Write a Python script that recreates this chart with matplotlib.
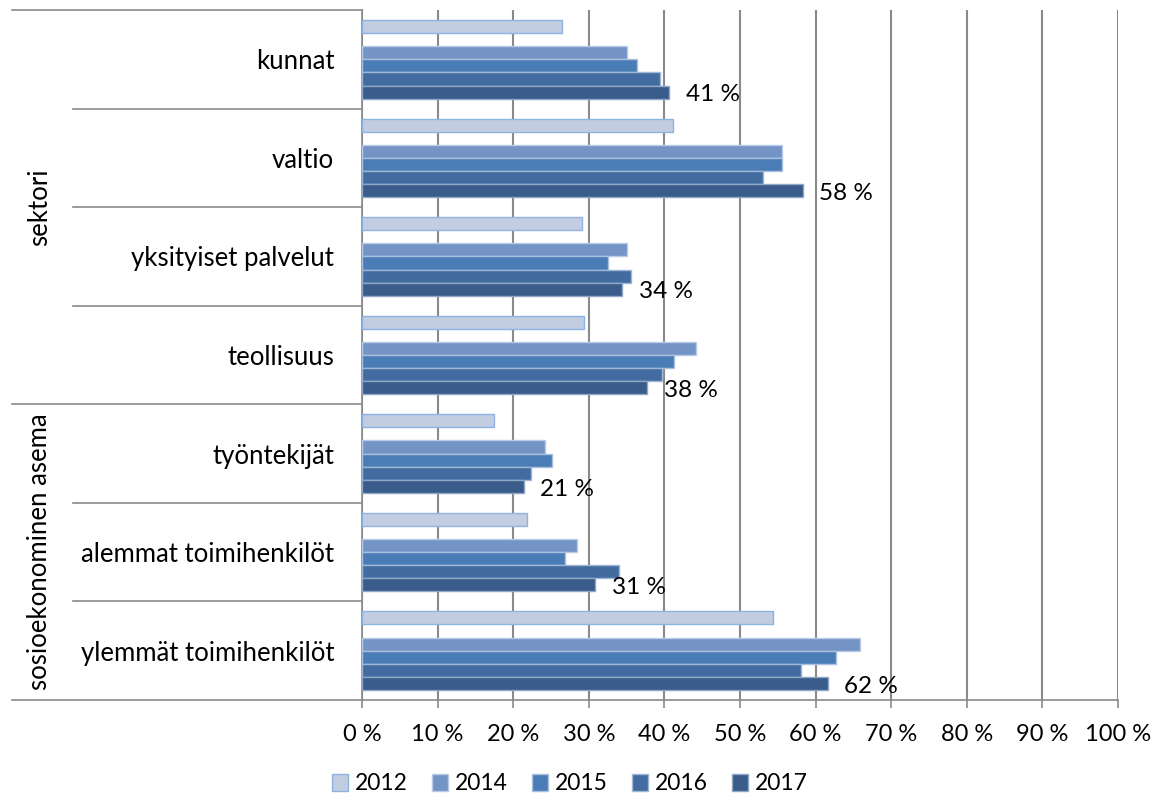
import matplotlib
matplotlib.use("Agg")
import matplotlib.pyplot as plt
import matplotlib.transforms as mtransforms
from matplotlib.lines import Line2D
from matplotlib.patches import Patch
import numpy as np

plt.rcParams["font.family"] = ["Lato", "DejaVu Sans"]

categories = ["kunnat", "valtio", "yksityiset palvelut", "teollisuus",
              "työntekijät", "alemmat toimihenkilöt", "ylemmät toimihenkilöt"]
groups = ["sektori", "sosioekonominen asema"]
group_sizes = [4, 3]

years = ["2012", "2014", "2015", "2016", "2017"]
v2012 = [26.5, 41.1, 29.1, 29.3, 17.4, 21.8, 54.4]
v2014 = [35.0, 55.6, 35.1, 44.2, 24.2, 28.4, 65.9]
v2015 = [36.4, 55.5, 32.5, 41.3, 25.1, 26.8, 62.7]
v2016 = [39.4, 53.1, 35.6, 39.7, 22.4, 34.0, 58.1]
v2017 = [40.6, 58.3, 34.4, 37.7, 21.4, 30.8, 61.6]
series = [v2012, v2014, v2015, v2016, v2017]

xticks = list(range(0, 101, 10))
xtick_labels = [f"{t} %" for t in xticks]

fills = ["#c3cde2", "#7394c5", "#4a7db5", "#426ca0", "#395c8a"]
edges = ["#8db3e2", "#b9cbe6", "#a9c1df", "#9fb6d4", "#8fa6c4"]
# slot index inside a category (slot 1 = missing 2013)
slots = [0, 2, 3, 4, 5]

fig = plt.figure(figsize=(11.55, 7.97), dpi=100)
W, H = 1155, 797
x0, x1, y0, y1 = 362, 1118, 10, 700
ax = fig.add_axes([x0 / W, 1 - y1 / H, (x1 - x0) / W, (y1 - y0) / H])

n = len(categories)
h = 0.133
pos = np.arange(n)
for s, vals, fc, ec, yr in zip(slots, series, fills, edges, years):
    ax.barh(pos + (s - 2.5) * h, vals, height=h, color=fc, edgecolor=ec,
            linewidth=1.0, label=yr, zorder=3)

for i, v in enumerate(v2017):
    ax.annotate(f"{v:.0f} %", (v, pos[i] + 2.5 * h), xytext=(12, -2),
                textcoords="offset points", ha="left", va="center",
                fontsize=17.5, color="black", zorder=4)

ax.set_xlim(0, 100)
ax.set_ylim(n - 0.5, -0.5)
ax.set_xticks(xticks)
ax.set_xticklabels(xtick_labels, fontsize=17)
ax.xaxis.grid(True, color="#8a8a8a", linewidth=1.5, zorder=0)
ax.tick_params(axis="x", length=6, width=1.2, color="#8a8a8a", pad=11)

ax.set_yticks(pos)
ax.set_yticklabels(categories, fontsize=18.5)
ax.tick_params(axis="y", length=0, pad=20)

for side in ["top", "right"]:
    ax.spines[side].set_visible(False)
for side in ["left", "bottom"]:
    ax.spines[side].set_color("#8a8a8a")
    ax.spines[side].set_linewidth(1.2)

# multi-level category axis lines
tr = mtransforms.blended_transform_factory(ax.transAxes, ax.transData)
inner_x = (73 - x0) / (x1 - x0)
outer_x = (12 - x0) / (x1 - x0)
bounds = np.arange(n + 1) - 0.5
group_edges = np.concatenate([[0], np.cumsum(group_sizes)])
for b in bounds:
    k = int(b + 0.5)
    xl = outer_x if k in group_edges else inner_x
    ax.add_line(Line2D([xl, 0], [b, b], transform=tr, color="#8a8a8a",
                       linewidth=1.2, clip_on=False))

label_x = (40 - x0) / (x1 - x0)
for g, a, b in zip(groups, group_edges[:-1], group_edges[1:]):
    ax.text(label_x, (a + b - 1) / 2, g, transform=tr, rotation=90,
            ha="center", va="center", fontsize=18.5)

handles = [Patch(facecolor=fc, edgecolor=ec, linewidth=1.0) for fc, ec in zip(fills, edges)]
fig.legend(handles, years, loc="center", bbox_to_anchor=(570 / W, 1 - 784 / H),
           ncol=5, frameon=False, fontsize=16.5, handlelength=0.7,
           handleheight=0.7, handletextpad=0.3, columnspacing=1.05)

fig.savefig("out.png", dpi=100)
